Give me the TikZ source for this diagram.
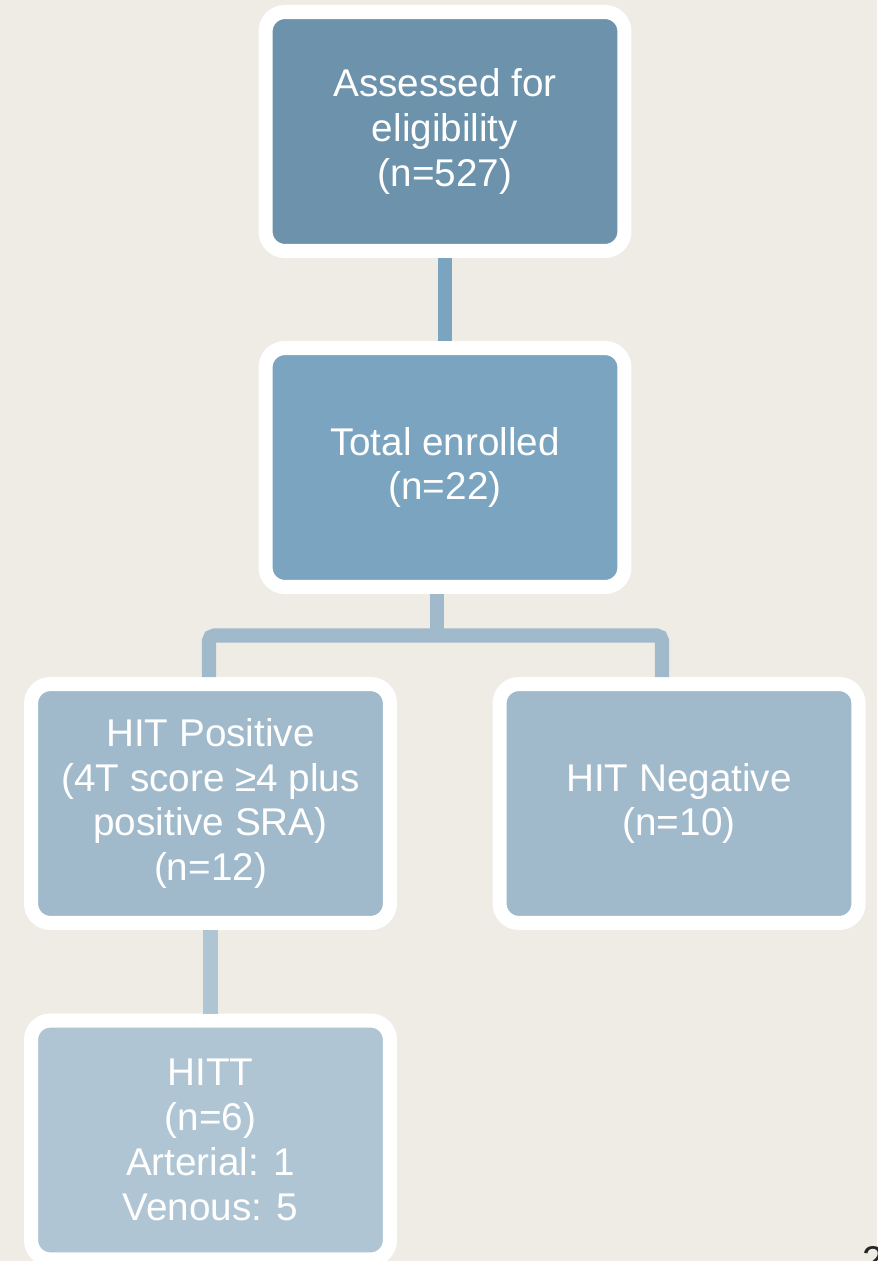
\documentclass[tikz,border=0pt]{standalone}
\usepackage{fontspec}
\setmainfont{Liberation Sans}
\usepackage{tikz}
\usetikzlibrary{positioning}
\definecolor{bgpage}{HTML}{EFECE5}
\definecolor{toneA}{HTML}{6C93AB}
\definecolor{toneB}{HTML}{7AA4BF}
\definecolor{toneC}{HTML}{A0BACC}
\definecolor{toneD}{HTML}{AFC5D4}
\tikzset{
  flowbox/.style = {draw=white, line width=8pt, rounded corners=11pt,
                    minimum width=7.18cm, minimum height=4.78cm, inner sep=0pt,
                    align=center, text=white,
                    font=\fontsize{22}{25.5}\selectfont},
  link/.style    = {line width=8pt},
}
\begin{document}
\begin{tikzpicture}[x=0.02cm,y=-0.02cm]
 \fill[bgpage] (0,0) rectangle (877,1261);
 \useasboundingbox (0,0) rectangle (877,1261);
 % boxes
 \node[flowbox, fill=toneA] (assess) at (445,131.5) {Assessed for\\eligibility\\(n=527)};
 \node[flowbox, fill=toneB] (enrol)  at (445,467.5) {Total enrolled\\(n=22)};
 \node[flowbox, fill=toneC] (pos)    at (210.5,803.5) {HIT Positive\\(4T score ≥4 plus\\positive SRA)\\(n=12)};
 \node[flowbox, fill=toneC] (neg)    at (679,803.5) {HIT Negative\\(n=10)};
 \node[flowbox, fill=toneD] (hitt)   at (210.5,1140) {HITT\\(n=6)\\Arterial: 1\\Venous: 5};
 % connectors
 \coordinate (split) at (437,635.5);
 \coordinate (lft) at (209,635.5);
 \coordinate (rgt) at (662,635.5);
 \draw[link, toneB] (assess.south) -- (enrol.north);
 \draw[link, toneC] (enrol.south -| split) -- (split);
 \draw[link, toneC, rounded corners=3pt] (pos.north -| lft) -- (lft) -- (rgt) -- (neg.north -| rgt);
 \draw[link, toneD] (pos.south) -- (hitt.north);
 % page number, cut off at the edge
 \node[anchor=north west, inner sep=0pt, text=black!85, font=\fontsize{22}{25.5}\selectfont] (pageno) at (862,1246) {2};
\end{tikzpicture}
\end{document}
